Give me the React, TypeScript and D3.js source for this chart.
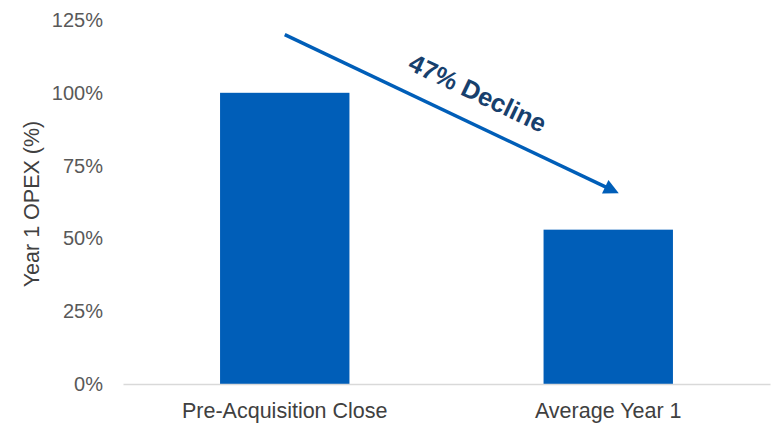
import React, { useRef, useEffect } from 'react';
import * as d3 from 'd3';

const categories = ['Pre-Acquisition Close', 'Average Year 1'];
const opexValues = [100, 53];
const yTicks = [0, 25, 50, 75, 100, 125];
const declineLabel = '47% Decline';
// arrow annotation: from above first bar to right of second bar (value units)
const arrowFrom = { cat: 0, shift: 0, value: 120 };
const arrowTo = { cat: 1, shift: 0.0136, value: 65.5 };

function App() {
  const svgRef = useRef(null);

  useEffect(() => {
    const w = 773;
    const h = 425;
    const font = '"Liberation Sans", Arial, sans-serif';
    const svg = d3.select(svgRef.current)
      .attr('width', w)
      .attr('height', h)
      .style('position', 'absolute')
      .style('left', 0)
      .style('top', 0)
      .style('font-family', font);
    svg.selectAll('*').remove();

    const xScale = d3.scaleBand()
      .domain(categories)
      .range([123, 770])
      .paddingInner(0.6)
      .paddingOuter(0.3);
    const yScale = d3.scaleLinear()
      .domain([0, 125])
      .range([384, 20]);

    // y tick labels
    const yAxis = d3.axisLeft(yScale)
      .tickValues(yTicks)
      .tickFormat(d => `${d}%`)
      .tickSize(0)
      .tickPadding(0);
    const gy = svg.append('g')
      .attr('transform', 'translate(103,0)')
      .call(yAxis);
    gy.select('.domain').remove();
    gy.selectAll('text')
      .attr('fill', '#595959')
      .style('font-size', '20px')
      .style('font-family', font);

    svg.append('text')
      .attr('transform', `translate(32,${yScale(62.5) + 2}) rotate(-90)`)
      .attr('text-anchor', 'middle')
      .attr('dominant-baseline', 'central')
      .attr('fill', '#404040')
      .style('font-size', '21.5px')
      .text('Year 1 OPEX (%)');

    // bars
    svg.selectAll('.bar')
      .data(opexValues)
      .join('rect')
      .attr('class', 'bar')
      .attr('x', (d, i) => xScale(categories[i]))
      .attr('y', d => yScale(d))
      .attr('width', xScale.bandwidth())
      .attr('height', d => yScale(0) - yScale(d))
      .attr('fill', '#005EB8');

    // x axis
    const xAxis = d3.axisBottom(xScale).tickSize(0).tickPadding(19);
    const gx = svg.append('g')
      .attr('transform', `translate(0,${yScale(0)})`)
      .call(xAxis);
    gx.select('.domain')
      .attr('stroke', '#d9d9d9')
      .attr('stroke-width', 1.5);
    gx.selectAll('text')
      .attr('fill', '#404040')
      .style('font-size', '21.5px')
      .style('font-family', font);

    // arrow
    const px = (p: any) => xScale(categories[p.cat]) + xScale.bandwidth() / 2 + p.shift * w;
    const x1 = px(arrowFrom), y1 = yScale(arrowFrom.value);
    const x2 = px(arrowTo), y2 = yScale(arrowTo.value);
    const angleRad = Math.atan2(y2 - y1, x2 - x1);
    const headLen = 15;
    const headHalf = 7.5;
    const bx = x2 - headLen * Math.cos(angleRad);
    const by = y2 - headLen * Math.sin(angleRad);
    svg.append('line')
      .attr('x1', x1).attr('y1', y1)
      .attr('x2', bx + 2 * Math.cos(angleRad)).attr('y2', by + 2 * Math.sin(angleRad))
      .attr('stroke', '#005EB8')
      .attr('stroke-width', 3.5);
    const nx = -Math.sin(angleRad), ny = Math.cos(angleRad);
    svg.append('path')
      .attr('d', `M${x2},${y2} L${bx + nx * headHalf},${by + ny * headHalf} L${bx - nx * headHalf},${by - ny * headHalf} Z`)
      .attr('fill', '#005EB8');

    const angle = angleRad * 180 / Math.PI;
    svg.append('text')
      .attr('transform', `translate(${(x1 + x2) / 2 + 26},${(y1 + y2) / 2 - 21}) rotate(${angle})`)
      .attr('text-anchor', 'middle')
      .attr('dominant-baseline', 'central')
      .attr('fill', '#17406D')
      .style('font-size', '25.5px')
      .style('font-weight', 'bold')
      .text(declineLabel);
  }, []);

  return <svg ref={svgRef}></svg>;
}

export default App;
